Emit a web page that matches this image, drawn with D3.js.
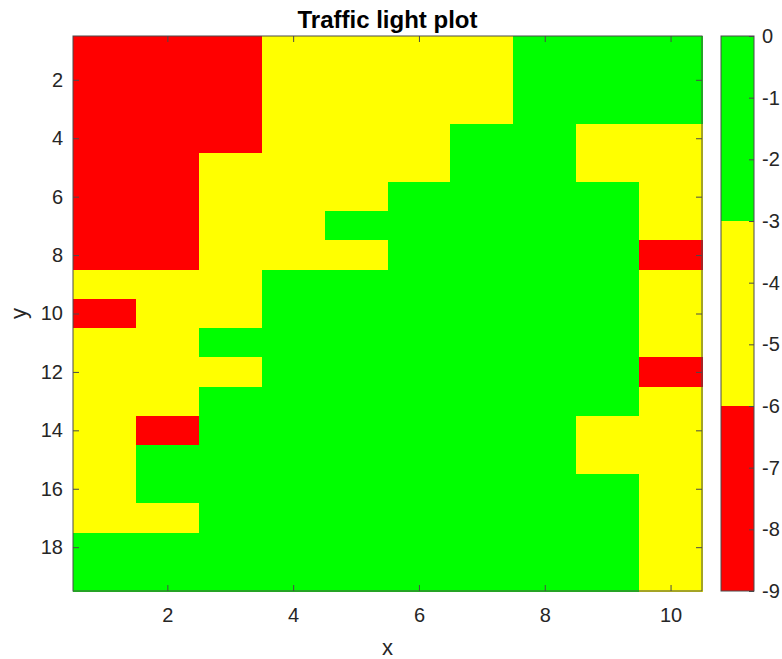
<!DOCTYPE html>
<html>
<head>
<meta charset="utf-8">
<script src="https://cdn.jsdelivr.net/npm/d3@7"></script>
<style>
  html, body { margin: 0; padding: 0; background: #fff; }
  svg { display: block; }
</style>
</head>
<body>
<svg id="chart" width="782" height="659"></svg>
<script>
// Grid values (rows y = 1..19, columns x = 1..10); scores run from -9 (bad) to 0 (good)
const xCats = [1, 2, 3, 4, 5, 6, 7, 8, 9, 10];
const yCats = d3.range(1, 20);
const gridValues = [
  [-8, -8, -7, -5, -5, -4, -4, -1, -1, -1],
  [-8, -8, -7, -5, -5, -4, -4, -1, -1, -1],
  [-8, -8, -7, -5, -5, -4, -4, -2, -1, -1],
  [-8, -8, -7, -5, -4, -4, -2, -2, -4, -4],
  [-8, -8, -5, -5, -4, -4, -2, -2, -4, -4],
  [-8, -8, -5, -5, -4, -2, -2, -2, -2, -4],
  [-8, -8, -5, -4, -2, -2, -1, -2, -2, -4],
  [-8, -8, -5, -5, -4, -2, -1, -2, -2, -7],
  [-5, -5, -4, -2, -2, -1, -1, -1, -2, -4],
  [-7, -5, -4, -2, -2, -1, -1, -1, -2, -4],
  [-5, -5, -2, -2, -1, -1, -1, -1, -2, -4],
  [-5, -5, -4, -2, -1, -1, -1, -1, -2, -7],
  [-5, -4, -2, -2, -1, -1, -1, -1, -2, -4],
  [-5, -7, -2, -2, -1, -1, -1, -2, -4, -4],
  [-4, -2, -2, -2, -1, -1, -1, -2, -4, -4],
  [-4, -2, -2, -2, -1, -1, -1, -2, -2, -4],
  [-4, -4, -2, -2, -2, -1, -1, -2, -2, -4],
  [-2, -2, -2, -2, -2, -2, -2, -2, -2, -4],
  [-2, -2, -2, -2, -2, -2, -2, -2, -2, -4]
];
const xTicks = [2, 4, 6, 8, 10];
const yTicks = [2, 4, 6, 8, 10, 12, 14, 16, 18];
const cbarTicks = [0, -1, -2, -3, -4, -5, -6, -7, -8, -9];
const levelColors = ["#ff0000", "#ffff00", "#00ff00"];
const valueDomain = [-9, 0];
const titleText = "Traffic light plot";

const svg = d3.select("#chart");
const font = "'Liberation Sans', Arial, Helvetica, sans-serif";
const textColor = "#262626";
const axisColor = "#4a4a4a";
const tickFont = 20;
const plainNumber = d => String(d);   // ASCII hyphen for negatives

const plot = { left: 73, top: 36, right: 702, bottom: 591 };
const cbar = { left: 721, right: 754, top: 36, bottom: 591 };

const x = d3.scaleLinear().domain([0.5, xCats.length + 0.5]).range([plot.left, plot.right]);
const y = d3.scaleLinear().domain([0.5, yCats.length + 0.5]).range([plot.top, plot.bottom]);
const color = d3.scaleQuantize().domain(valueDomain).range(levelColors);

// Cells
const cells = [];
gridValues.forEach((row, i) => row.forEach((v, j) => cells.push({ xi: xCats[j], yi: yCats[i], v })));
svg.append("g").selectAll("rect").data(cells).join("rect")
  .attr("x", d => x(d.xi - 0.5))
  .attr("y", d => y(d.yi - 0.5))
  .attr("width", d => x(d.xi + 0.5) - x(d.xi - 0.5) + 0.5)
  .attr("height", d => y(d.yi + 0.5) - y(d.yi - 0.5) + 0.5)
  .attr("fill", d => color(d.v))
  .attr("shape-rendering", "crispEdges");

// Axes with inward ticks on all four sides
const tickLen = 6;
function styleAxis(g) {
  g.select(".domain").remove();
  g.selectAll(".tick line").attr("stroke", axisColor);
  g.selectAll(".tick text").attr("fill", textColor).attr("font-family", font).attr("font-size", tickFont);
}
svg.append("g").attr("transform", `translate(0,${plot.bottom})`)
  .call(d3.axisBottom(x).tickValues(xTicks).tickSizeInner(-tickLen).tickSizeOuter(0).tickPadding(17).tickFormat(plainNumber))
  .call(styleAxis);
svg.append("g").attr("transform", `translate(0,${plot.top})`)
  .call(d3.axisTop(x).tickValues(xTicks).tickSizeInner(-tickLen).tickSizeOuter(0).tickFormat(""))
  .call(styleAxis);
svg.append("g").attr("transform", `translate(${plot.left},0)`)
  .call(d3.axisLeft(y).tickValues(yTicks).tickSizeInner(-tickLen).tickSizeOuter(0).tickPadding(10).tickFormat(plainNumber))
  .call(styleAxis);
svg.append("g").attr("transform", `translate(${plot.right},0)`)
  .call(d3.axisRight(y).tickValues(yTicks).tickSizeInner(-tickLen).tickSizeOuter(0).tickFormat(""))
  .call(styleAxis);

svg.append("rect")
  .attr("x", plot.left).attr("y", plot.top)
  .attr("width", plot.right - plot.left).attr("height", plot.bottom - plot.top)
  .attr("fill", "none").attr("stroke", axisColor).attr("stroke-width", 1);

// Title and axis labels
svg.append("text").attr("x", (plot.left + plot.right) / 2).attr("y", 28)
  .attr("text-anchor", "middle").attr("font-family", font).attr("font-weight", "bold")
  .attr("font-size", 24).attr("fill", "#000").text(titleText);
svg.append("text").attr("x", (plot.left + plot.right) / 2).attr("y", 655)
  .attr("text-anchor", "middle").attr("font-family", font).attr("font-size", 22)
  .attr("fill", textColor).text("x");
svg.append("text").attr("transform", `translate(26,${(plot.top + plot.bottom) / 2}) rotate(-90)`)
  .attr("text-anchor", "middle").attr("font-family", font).attr("font-size", 22)
  .attr("fill", textColor).text("y");

// Colorbar
const cy = d3.scaleLinear().domain([0, -9]).range([cbar.top, cbar.bottom]);
const bandWidth = (valueDomain[1] - valueDomain[0]) / levelColors.length;
const bands = levelColors.map((c, i) => ({ lo: valueDomain[0] + i * bandWidth, hi: valueDomain[0] + (i + 1) * bandWidth, c }));
svg.append("g").selectAll("rect").data(bands).join("rect")
  .attr("x", cbar.left).attr("width", cbar.right - cbar.left)
  .attr("y", d => cy(d.hi)).attr("height", d => cy(d.lo) - cy(d.hi))
  .attr("fill", d => d.c).attr("shape-rendering", "crispEdges");
svg.append("g").attr("transform", `translate(${cbar.right},0)`)
  .call(d3.axisRight(cy).tickValues(cbarTicks).tickSizeInner(-5).tickSizeOuter(0).tickPadding(8).tickFormat(plainNumber))
  .call(styleAxis);
svg.append("rect")
  .attr("x", cbar.left).attr("y", cbar.top)
  .attr("width", cbar.right - cbar.left).attr("height", cbar.bottom - cbar.top)
  .attr("fill", "none").attr("stroke", axisColor).attr("stroke-width", 1);
</script>
</body>
</html>
